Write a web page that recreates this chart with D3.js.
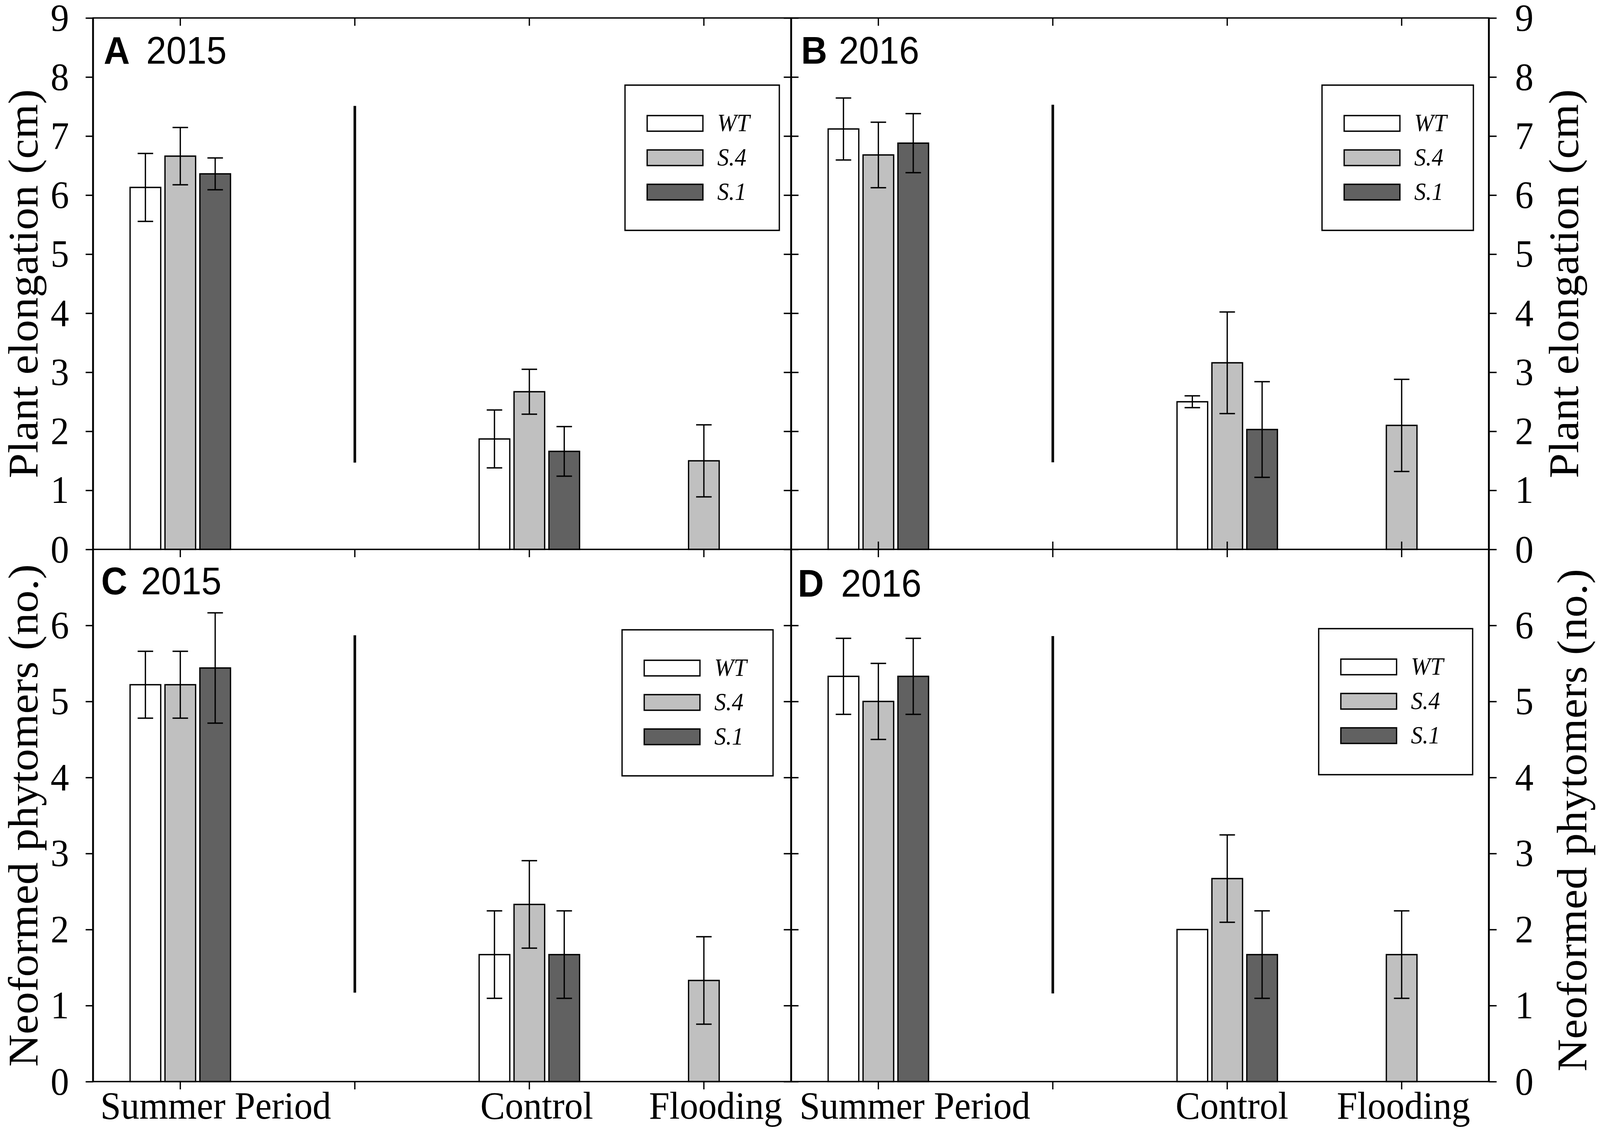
<!DOCTYPE html>
<html><head><meta charset="utf-8">
<script src="https://cdn.jsdelivr.net/npm/d3@7"></script>
<style>
html,body{margin:0;padding:0;background:#fff;overflow:hidden;width:100%;height:100%;}
svg{display:block;width:100vw;height:100vh;}
</style>
</head><body>
<script>
// ---------------- DATA ----------------
const categories = ["Summer Period", "", "Control", "Flooding"];
const series = ["WT", "S.4", "S.1"];
const elongTicks = [0, 1, 2, 3, 4, 5, 6, 7, 8, 9];
const phytoTicks = [0, 1, 2, 3, 4, 5, 6];
const elongTitle = "Plant elongation (cm)";
const phytoTitle = "Neoformed phytomers (no.)";

// Means [category][series: WT, S.4, S.1]
const elong2015Mean = [[6.13, 6.66, 6.36], [null, null, null], [1.87, 2.67, 1.66], [null, 1.50, null]];
const elong2015SE   = [[0.575, 0.485, 0.27], [null, null, null], [0.49, 0.38, 0.42], [null, 0.61, null]];
const elong2016Mean = [[7.12, 6.68, 6.88], [null, null, null], [2.50, 3.16, 2.03], [null, 2.10, null]];
const elong2016SE   = [[0.525, 0.555, 0.50], [null, null, null], [0.10, 0.86, 0.81], [null, 0.78, null]];
const phyto2015Mean = [[5.22, 5.22, 5.44], [null, null, null], [1.67, 2.33, 1.67], [null, 1.33, null]];
const phyto2015SE   = [[0.44, 0.44, 0.725], [null, null, null], [0.575, 0.575, 0.575], [null, 0.575, null]];
const phyto2016Mean = [[5.33, 5.00, 5.33], [null, null, null], [2.00, 2.67, 1.67], [null, 1.67, null]];
const phyto2016SE   = [[0.50, 0.50, 0.50], [null, null, null], [null, 0.575, 0.575], [null, 0.575, null]];

// separator line ranges (value units) in the blank category
const sepA = [1.47, 7.51];
const sepB = [1.475, 7.53];
const sepC = [1.17, 5.87];
const sepD = [1.16, 5.86];

// ---------------- LAYOUT ----------------
const W = 4334, H = 2894;
const colX = [[252, 2143], [2143, 4033]];
const rowY = [[46, 1407], [1407, 2770]];
const fills = {"WT": "#ffffff", "S.4": "#c0c0c0", "S.1": "#616161"};
const serif = "'Liberation Serif', 'Times New Roman', serif";
const sans = "'Liberation Sans', Arial, sans-serif";

const panels = [
  {letter: "A", year: "2015", mean: elong2015Mean, se: elong2015SE, sep: sepA, col: 0, row: 0,
   title: {lx: 29, yx: 144, by: 117}, legend: {left: 1693, top: 218, w: 418, h: 372}},
  {letter: "B", year: "2016", mean: elong2016Mean, se: elong2016SE, sep: sepB, col: 1, row: 0,
   title: {lx: 27, yx: 129, by: 117}, legend: {left: 3581, top: 218, w: 410, h: 372}},
  {letter: "C", year: "2015", mean: phyto2015Mean, se: phyto2015SE, sep: sepC, col: 0, row: 1,
   title: {lx: 22, yx: 130, by: 115}, legend: {left: 1685, top: 1613, w: 409, h: 374}},
  {letter: "D", year: "2016", mean: phyto2016Mean, se: phyto2016SE, sep: sepD, col: 1, row: 1,
   title: {lx: 18, yx: 135, by: 121}, legend: {left: 3572, top: 1610, w: 417, h: 374}}
];

const svg = d3.select("body").append("svg")
  .attr("viewBox", `0 0 ${W} ${H}`)
  .attr("preserveAspectRatio", "none");
svg.append("rect").attr("width", W).attr("height", H).attr("fill", "#fff");

const xScales = {};

panels.forEach(p => {
  const x = d3.scaleBand().domain(categories).range(colX[p.col]).padding(0);
  const bw = x.bandwidth();
  const xs = d3.scaleBand().domain(series).range([bw / 2 - 136, bw / 2 + 136]).paddingInner(0.122);
  const y = d3.scaleLinear().domain(p.row === 0 ? [0, 9] : [0, 7]).range([rowY[p.row][1], rowY[p.row][0]]);
  xScales[p.letter] = x;
  const g = svg.append("g");

  // bars
  const items = [];
  categories.forEach((c, i) => series.forEach((s, j) => {
    const m = p.mean[i][j];
    if (m !== null) items.push({c, s, m, e: p.se[i][j]});
  }));
  g.selectAll("rect.bar").data(items).join("rect")
    .attr("class", "bar")
    .attr("x", d => x(d.c) + xs(d.s))
    .attr("width", xs.bandwidth())
    .attr("y", d => y(d.m))
    .attr("height", d => y(0) - y(d.m))
    .attr("fill", d => fills[d.s])
    .attr("stroke", "#000").attr("stroke-width", 3.5);

  // error bars
  const eb = items.filter(d => d.e !== null && d.e > 0);
  const cx = d => x(d.c) + xs(d.s) + xs.bandwidth() / 2;
  g.selectAll("line.err").data(eb).join("line")
    .attr("x1", cx).attr("x2", cx)
    .attr("y1", d => y(d.m - d.e)).attr("y2", d => y(d.m + d.e))
    .attr("stroke", "#000").attr("stroke-width", 3.5);
  ["hi", "lo"].forEach(k => {
    g.selectAll("line.cap" + k).data(eb).join("line")
      .attr("x1", d => cx(d) - 21).attr("x2", d => cx(d) + 21)
      .attr("y1", d => y(k === "hi" ? d.m + d.e : d.m - d.e))
      .attr("y2", d => y(k === "hi" ? d.m + d.e : d.m - d.e))
      .attr("stroke", "#000").attr("stroke-width", 3.5);
  });

  // separator line
  const sx = x(categories[1]) + bw / 2;
  g.append("line").attr("x1", sx).attr("x2", sx)
    .attr("y1", y(p.sep[0])).attr("y2", y(p.sep[1]))
    .attr("stroke", "#000").attr("stroke-width", 7);

  // legend
  const L = p.legend;
  const lg = g.append("g");
  lg.append("rect").attr("x", L.left).attr("y", L.top).attr("width", L.w).attr("height", L.h)
    .attr("fill", "#fff").attr("stroke", "#000").attr("stroke-width", 3.5);
  series.forEach((s, j) => {
    const cy = L.top + 98 + j * 88;
    lg.append("rect").attr("x", L.left + 60).attr("y", cy - 20).attr("width", 151).attr("height", 40)
      .attr("fill", fills[s]).attr("stroke", "#000").attr("stroke-width", 3.5);
    lg.append("text").attr("x", L.left + 250).attr("y", cy + 20)
      .attr("font-family", serif).attr("font-style", "italic").attr("font-size", 63)
      .text(s);
  });

  // panel title
  const top = rowY[p.row][0], left = colX[p.col][0];
  g.append("text").attr("x", left + p.title.lx).attr("y", top + p.title.by)
    .attr("font-family", sans).attr("font-weight", "bold").attr("font-size", 98).text(p.letter);
  g.append("text").attr("x", left + p.title.yx).attr("y", top + p.title.by)
    .attr("font-family", sans).attr("font-size", 98).text(p.year);

  const styleAxis = a => {
    a.select(".domain").remove();
    a.selectAll(".tick line").attr("stroke", "#000").attr("stroke-width", 3.5);
    a.selectAll(".tick text").attr("font-family", serif).attr("font-size", 100).attr("fill", "#000");
  };
  // x ticks: top edge inward
  svg.append("g").attr("transform", `translate(0,${top})`)
    .call(d3.axisTop(x).tickSize(-20).tickSizeOuter(0).tickFormat("")).call(styleAxis);
  const bottom = rowY[p.row][1];
  if (p.row === 1) {
    svg.append("g").attr("transform", `translate(0,${bottom})`)
      .call(d3.axisBottom(x).tickSize(20).tickSizeOuter(0).tickFormat("")).call(styleAxis);
  } else if (p.col === 1) {
    svg.append("g").attr("transform", `translate(0,${bottom})`)
      .call(d3.axisBottom(x).tickSize(-20).tickSizeOuter(0).tickFormat("")).call(styleAxis);
  }

  // y ticks
  const ticks = p.row === 0 ? elongTicks : phytoTicks;
  if (p.col === 0) {
    svg.append("g").attr("transform", `translate(${colX[0][0]},0)`)
      .call(d3.axisLeft(y).tickValues(ticks).tickSize(20).tickPadding(45).tickSizeOuter(0).tickFormat(d3.format("d")))
      .call(styleAxis);
    svg.append("g").attr("transform", `translate(${colX[0][1]},0)`)
      .call(d3.axisLeft(y).tickValues(ticks).tickSize(20).tickSizeOuter(0).tickFormat("")).call(styleAxis);
  } else {
    svg.append("g").attr("transform", `translate(${colX[1][1]},0)`)
      .call(d3.axisRight(y).tickValues(ticks).tickSize(21).tickPadding(50).tickSizeOuter(0).tickFormat(d3.format("d")))
      .call(styleAxis);
    svg.append("g").attr("transform", `translate(${colX[1][0]},0)`)
      .call(d3.axisRight(y).tickValues(ticks).tickSize(20).tickSizeOuter(0).tickFormat("")).call(styleAxis);
  }
});

// frame lines
const frame = svg.append("g").attr("stroke", "#000");
[colX[0][0], colX[0][1], colX[1][1]].forEach(xv => {
  frame.append("line").attr("x1", xv).attr("x2", xv).attr("y1", rowY[0][0] - 1.5).attr("y2", rowY[1][1] + 1.5)
    .attr("stroke-width", 5);
});
[rowY[0][0], rowY[0][1], rowY[1][1]].forEach(yv => {
  frame.append("line").attr("x1", colX[0][0]).attr("x2", colX[1][1]).attr("y1", yv).attr("y2", yv)
    .attr("stroke-width", 3.5);
});

// x category labels (below bottom panels)
const labelDx = [[96, 0, 20, 32], [99, 0, 13, 5]];
["C", "D"].forEach((id, col) => {
  const x = xScales[id];
  categories.forEach((c, i) => {
    if (!c) return;
    svg.append("text")
      .attr("x", x(c) + x.bandwidth() / 2 + labelDx[col][i])
      .attr("y", 2865)
      .attr("text-anchor", "middle")
      .attr("font-family", serif).attr("font-size", 100)
      .text(c);
  });
});

// y axis titles
const titles = [
  {t: elongTitle, x: 102, y: (rowY[0][0] + rowY[0][1]) / 2},
  {t: phytoTitle, x: 102, y: (rowY[1][0] + rowY[1][1]) / 2},
  {t: elongTitle, x: 4275, y: (rowY[0][0] + rowY[0][1]) / 2},
  {t: phytoTitle, x: 4297, y: (rowY[1][0] + rowY[1][1]) / 2 + 12}
];
titles.forEach(d => {
  svg.append("text")
    .attr("transform", `translate(${d.x},${d.y}) rotate(-90)`)
    .attr("text-anchor", "middle")
    .attr("font-family", serif).attr("font-size", 115)
    .text(d.t);
});
</script>
</body></html>
